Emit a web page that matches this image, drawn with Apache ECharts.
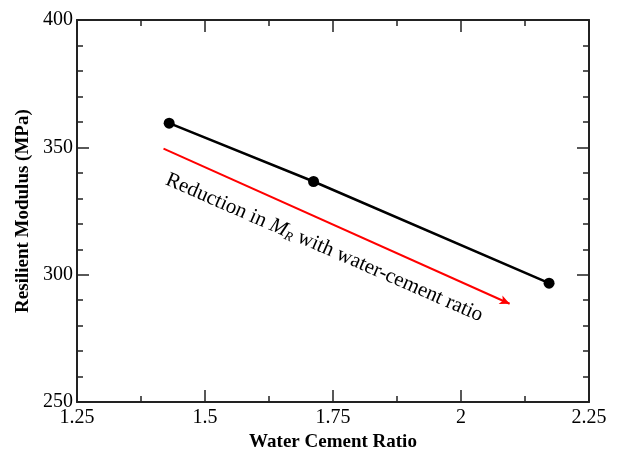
<!DOCTYPE html>
<html>
<head>
<meta charset="utf-8">
<script src="https://cdn.jsdelivr.net/npm/echarts@6/dist/echarts.min.js"></script>
<style>
  html, body { margin: 0; padding: 0; background: #fff; }
  #main { width: 618px; height: 457px; }
</style>
</head>
<body>
<div id="main"></div>
<script>
// measured points
var wcRatio = [1.43, 1.712, 2.172];
var modulus = [359.5, 336.6, 296.7];

// red trend arrow (data coords)
var arrowFrom = [1.419, 349.5];
var arrowTo = [2.095, 288.6];
// where the note sits (data coords)
var notePos = [1.733, 310.6];

var xTicks = ['1.25', '1.5', '1.75', '2', '2.25'];
var yTicks = ['250', '300', '350', '400'];

var FONT = 'Liberation Serif, Times New Roman, serif';

var chart = echarts.init(document.getElementById('main'));

function axisCommon(showLabel) {
  return {
    axisLine: { show: true, onZero: false, lineStyle: { color: '#222', width: 2 } },
    axisTick: { show: true, inside: true, length: 12, lineStyle: { color: '#222', width: 1.5 } },
    minorTick: { show: true, length: 6, lineStyle: { color: '#222', width: 1.5 } },
    splitLine: { show: false },
    minorSplitLine: { show: false },
    axisLabel: { show: showLabel, color: '#000', fontFamily: FONT, fontSize: 20 }
  };
}

var xBottom = Object.assign(axisCommon(true), {
  type: 'value', min: 1.25, max: 2.25, interval: 0.25, position: 'bottom',
  name: 'Water Cement Ratio', nameLocation: 'middle', nameGap: 28,
  nameTextStyle: { fontFamily: FONT, fontSize: 19, fontWeight: 'bold', color: '#000' }
});
xBottom.minorTick.splitNumber = 2;
xBottom.axisLabel.margin = 6;
xBottom.axisLabel.formatter = function (v) {
  var i = Math.round((v - 1.25) / 0.25);
  return xTicks[i];
};
var xTop = Object.assign(axisCommon(false), {
  type: 'value', min: 1.25, max: 2.25, interval: 0.25, position: 'top'
});
xTop.minorTick.splitNumber = 2;

var yLeft = Object.assign(axisCommon(true), {
  type: 'value', min: 250, max: 400, interval: 50, position: 'left',
  name: 'Resilient Modulus (MPa)', nameLocation: 'middle', nameGap: 37,
  nameTextStyle: { fontFamily: FONT, fontSize: 19, fontWeight: 'bold', color: '#000' }
});
yLeft.minorTick.splitNumber = 5;
yLeft.axisLabel.margin = 4;
yLeft.axisLabel.formatter = function (v) {
  var i = Math.round((v - 250) / 50);
  return yTicks[i];
};
var yRight = Object.assign(axisCommon(false), {
  type: 'value', min: 250, max: 400, interval: 50, position: 'right'
});
yRight.minorTick.splitNumber = 5;

chart.setOption({
  animation: false,
  backgroundColor: '#fff',
  textStyle: { fontFamily: FONT },
  grid: { left: 77, right: 29, top: 20, bottom: 54 },
  xAxis: [xBottom, xTop],
  yAxis: [yLeft, yRight],
  series: [
    {
      type: 'line',
      data: wcRatio.map(function (x, i) { return [x, modulus[i]]; }),
      symbol: 'circle',
      symbolSize: 11,
      showAllSymbol: true,
      lineStyle: { color: '#000', width: 2.5 },
      itemStyle: { color: '#000' },
      z: 3
    },
    {
      type: 'line',
      data: [],
      markLine: {
        silent: true,
        symbol: ['none', 'arrow'],
        symbolSize: [7, 10],
        label: { show: false },
        lineStyle: { color: '#ff0000', width: 2, type: 'solid' },
        data: [[{ coord: arrowFrom }, { coord: arrowTo }]]
      }
    }
  ]
});

// note text placed along the arrow
var p0 = chart.convertToPixel({ gridIndex: 0 }, arrowFrom);
var p1 = chart.convertToPixel({ gridIndex: 0 }, arrowTo);
var pc = chart.convertToPixel({ gridIndex: 0 }, notePos);
var ang = Math.atan2(p1[1] - p0[1], p1[0] - p0[0]);

chart.setOption({
  graphic: [{
    type: 'text',
    x: pc[0], y: pc[1],
    rotation: -ang + 0.01,
    style: {
      text: 'Reduction in {i|M}{s|R} with water-cement ratio',
      fontFamily: FONT,
      fontSize: 21,
      fill: '#000',
      align: 'center',
      verticalAlign: 'middle',
      rich: {
        i: { fontFamily: FONT, fontSize: 21, fontStyle: 'italic', fill: '#000' },
        s: { fontFamily: FONT, fontSize: 13, fontStyle: 'italic', fill: '#000', padding: [9, 0, 0, 0] }
      }
    }
  }]
});
</script>
</body>
</html>
